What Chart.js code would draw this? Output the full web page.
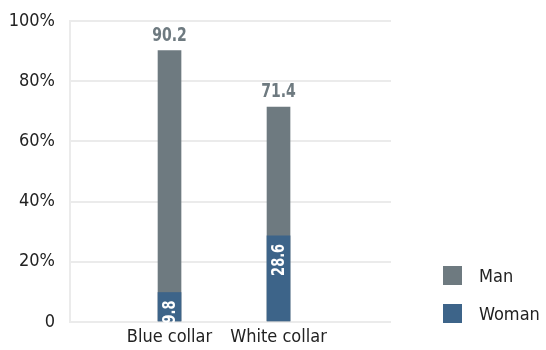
<!DOCTYPE html>
<html lang="en">
<head>
  <meta charset="UTF-8" />
  <title>Collar by gender</title>
  <script src="https://cdn.jsdelivr.net/npm/chart.js"></script>
  <style>
    body {
      margin: 0;
      padding: 0;
      background-color: #fff;
    }

    .wrap {
      position: relative;
      width: 546px;
      height: 350px;
    }

    .legend {
      position: absolute;
      left: 443px;
      top: 266px;
      font-family: 'DejaVu Sans Condensed', 'DejaVu Sans', sans-serif;
    }

    .legend-item {
      display: flex;
      align-items: center;
      height: 19px;
      margin-bottom: 19px;
      font-size: 18px;
      color: #222;
      white-space: nowrap;
    }

    .legend-item span.box {
      width: 19px;
      height: 19px;
      margin-right: 17px;
      flex-shrink: 0;
    }
  </style>
</head>
<body>
  <div class="wrap">
    <canvas id="chart" width="546" height="350"></canvas>
    <div class="legend" id="legend"></div>
  </div>

  <script>
    const categories = ['Blue collar', 'White collar'];
    const manValues = [90.2, 71.4];
    const womanValues = [9.8, 28.6];
    const yTicks = [0, 20, 40, 60, 80, 100];

    const FONT = "'DejaVu Sans Condensed', 'DejaVu Sans', sans-serif";
    const GRAY = '#6e7a80';
    const BLUE = '#3d6489';

    // html legend
    const legendEl = document.getElementById('legend');
    [['Man', GRAY], ['Woman', BLUE]].forEach(([name, color]) => {
      const item = document.createElement('div');
      item.className = 'legend-item';
      item.innerHTML = '<span class="box" style="background:' + color + '"></span>' + name;
      legendEl.appendChild(item);
    });

    // value labels, squeezed a bit to look condensed
    const barLabels = {
      id: 'barLabels',
      afterDatasetsDraw(chart) {
        const ctx = chart.ctx;
        chart.data.datasets.forEach((ds, i) => {
          const meta = chart.getDatasetMeta(i);
          meta.data.forEach((bar, j) => {
            const txt = ds.data[j].y.toFixed(1);
            ctx.save();
            if (ds.label === 'Man') {
              ctx.font = 'bold 20px ' + FONT;
              ctx.fillStyle = GRAY;
              ctx.textAlign = 'center';
              ctx.textBaseline = 'bottom';
              ctx.translate(bar.x, bar.y - 5);
              ctx.scale(0.78, 1);
              ctx.fillText(txt, 0, 0);
            } else {
              ctx.font = 'bold 18px ' + FONT;
              ctx.fillStyle = '#fff';
              ctx.translate(bar.x, bar.y + 8);
              ctx.rotate(-Math.PI / 2);
              ctx.scale(0.8, 1);
              ctx.textAlign = 'right';
              ctx.textBaseline = 'middle';
              ctx.fillText(txt, 0, 1);
            }
            ctx.restore();
          });
        });
      }
    };

    const ctx = document.getElementById('chart').getContext('2d');
    const chart = new Chart(ctx, {
      type: 'bar',
      data: {
        datasets: [
          {
            label: 'Man',
            data: manValues.map((v, i) => ({ x: i + 1, y: v })),
            backgroundColor: GRAY,
            grouped: false,
            barThickness: 23,
            order: 2
          },
          {
            label: 'Woman',
            data: womanValues.map((v, i) => ({ x: i + 1, y: v })),
            backgroundColor: BLUE,
            grouped: false,
            barThickness: 23,
            order: 1
          }
        ]
      },
      options: {
        responsive: false,
        animation: false,
        layout: {
          padding: { top: 21, right: 155, left: 0, bottom: 0 }
        },
        scales: {
          x: {
            type: 'linear',
            offset: false,
            min: 0.087,
            max: 3.032,
            afterBuildTicks(scale) {
              scale.ticks = categories.map((c, i) => ({ value: i + 1 }));
            },
            afterFit(scale) {
              scale.height = 28;
            },
            ticks: {
              callback: (v) => categories[v - 1],
              color: '#222',
              font: { family: FONT, size: 18 },
              padding: 5,
              maxRotation: 0
            },
            grid: { display: false, drawTicks: false, offset: false },
            border: { display: false }
          },
          y: {
            min: 0,
            max: 100,
            afterBuildTicks(scale) {
              scale.ticks = yTicks.map(v => ({ value: v }));
            },
            afterFit(scale) {
              scale.width = 70;
              scale.paddingTop = 0;
              scale.paddingBottom = 0;
            },
            ticks: {
              callback: (v) => v === 0 ? '0' : v + '%',
              color: '#222',
              font: { family: FONT, size: 18 },
              padding: 15
            },
            grid: { color: '#ebebeb', lineWidth: 2, drawTicks: false },
            border: { display: true, color: '#ebebeb', width: 2 }
          }
        },
        plugins: {
          legend: { display: false },
          tooltip: { enabled: false }
        }
      },
      plugins: [barLabels]
    });
  </script>
</body>
</html>
